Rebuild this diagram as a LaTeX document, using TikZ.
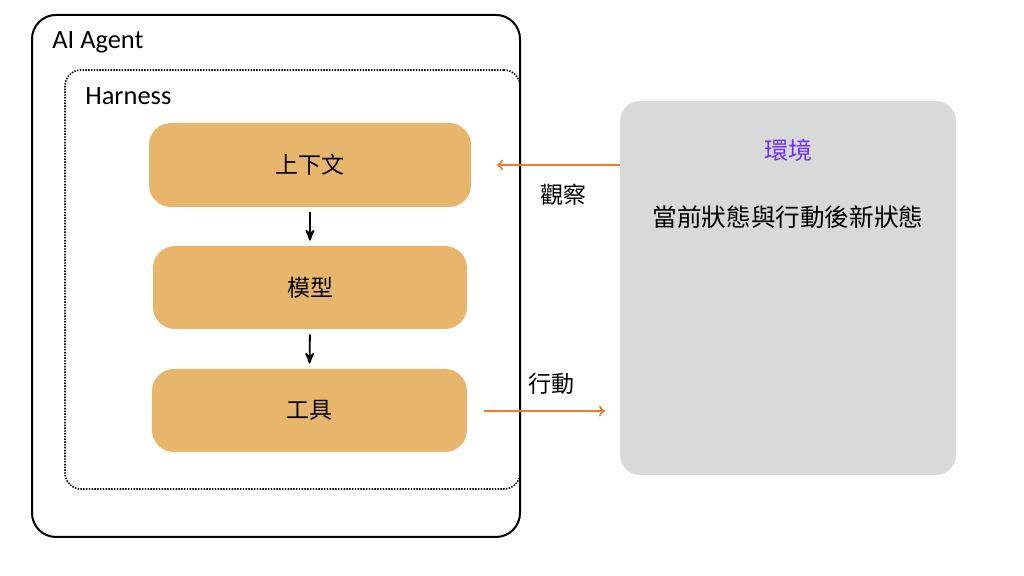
\documentclass[tikz,border=0pt]{standalone}
\usepackage{fontspec}
\setmainfont{Carlito}
\newfontfamily\cjk{Noto Sans CJK TC}
\usepackage{tikz}
\usetikzlibrary{arrows}
\usetikzlibrary{positioning}
\tikzset{>=stealth'}
\definecolor{boxfill}{RGB}{231, 182, 108}
\definecolor{envfill}{RGB}{217, 217, 217}
\definecolor{flow}{RGB}{245, 122, 40}
\definecolor{envtitle}{RGB}{112, 48, 240}
\tikzset{
	block/.style={rectangle, rounded corners=11pt, fill=boxfill, draw=none,
		font=\cjk\fontsize{11.5}{13}\selectfont},
	frame/.style={rectangle, draw, line width=1pt, rounded corners=12pt},
	flowarr/.style={->, >=to, draw=flow, line width=1pt},
	caption/.style={font=\fontsize{13.2}{15}\selectfont, anchor=west, inner sep=0pt}
}

\begin{document}
\begin{tikzpicture}[x=0.5pt, y=-0.5pt]
				\useasboundingbox (0,0) rectangle (1024,576);
				% containers
				\node[frame, minimum width=244pt, minimum height=261pt] (agent) at (276,276) {};
				\node[frame, dash pattern=on 0.7pt off 0.7pt, line width=0.8pt, rounded corners=8pt, minimum width=227.5pt, minimum height=209.5pt] (harness) at (292.5,279.5) {};
				\node[caption] (agentlab) at (52,42) {AI Agent};
				\node[caption] (harnesslab) at (85,96) {Harness};
	
				% the three stages
				\node[block, minimum width=161pt, minimum height=42pt] (ctx) at (310,165) {上下文};
				\node[block, minimum width=157pt, minimum height=41.5pt] (model) at (310,287.5) {模型};
				\node[block, minimum width=157.5pt, minimum height=41.5pt] (tool) at (309.5,410.5) {工具};
				\draw[->, line width=0.9pt, shorten >=2.5pt, shorten <=2.5pt] (ctx.south) -- (model.north);
				\draw[->, line width=0.9pt, shorten >=2.5pt, shorten <=2.5pt] (model.south) -- (tool.north);
	
				% environment
				\node[rectangle, rounded corners=10pt, fill=envfill, minimum width=168pt, minimum height=187pt] (env) at (788,288) {};
				\node[font=\cjk\fontsize{12}{14}\selectfont, text=envtitle] (envname) at (788,150) {環境};
				\node[font=\cjk\fontsize{12.3}{14}\selectfont] (envstate) at (788,217) {當前狀態與行動後新狀態};
	
				% observation and action
				\coordinate (obsend) at (497,165);
				\coordinate (actstart) at (484,411);
				\coordinate (actend) at (605,411);
				\draw[flowarr] (env.west |- ctx.east) -- (obsend);
				\draw[flowarr] (actstart) -- (actend);
				\node[font=\cjk\fontsize{11.5}{13}\selectfont] (obslab) at (563,195) {觀察};
				\node[font=\cjk\fontsize{11.5}{13}\selectfont] (actlab) at (551,384) {行動};
			 \end{tikzpicture}
\end{document}
